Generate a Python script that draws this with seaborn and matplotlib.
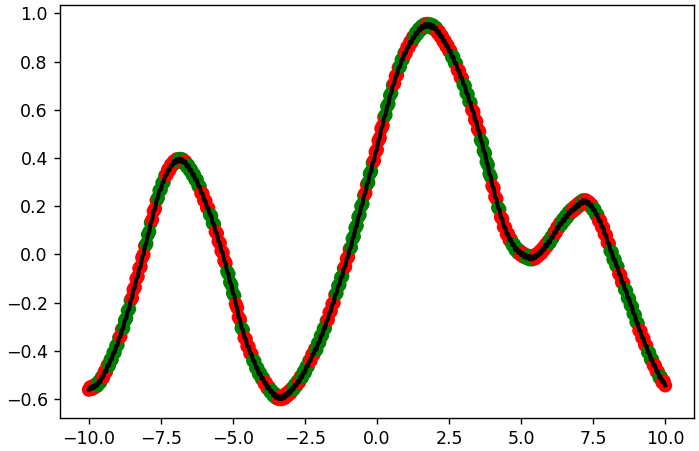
import numpy as np
import pandas as pd
import matplotlib
matplotlib.use("Agg")
import matplotlib.pyplot as plt
import seaborn as sns

# x grid, step 0.05 from -10 to 10
x = np.round(np.arange(-200, 201) / 20, 2)

# curve values (jagged like the original), 20 per unit of x
y = [
    -0.562, -0.551, -0.559, -0.546, -0.553, -0.539, -0.545, -0.527, -0.531, -0.509,
    -0.511, -0.486, -0.487, -0.461, -0.462, -0.437, -0.436, -0.408, -0.407, -0.379,
    -0.376, -0.346, -0.341, -0.311, -0.306, -0.274, -0.266, -0.233, -0.227, -0.191,
    -0.181, -0.146, -0.137, -0.101, -0.092, -0.058, -0.051, -0.013, -0.001, 0.035,
    0.044, 0.082, 0.094, 0.132, 0.144, 0.180, 0.189, 0.225, 0.234, 0.265,
    0.269, 0.297, 0.299, 0.327, 0.329, 0.352, 0.349, 0.372, 0.369, 0.386,
    0.379, 0.395, 0.384, 0.397, 0.384, 0.395, 0.379, 0.385, 0.364, 0.370,
    0.349, 0.352, 0.329, 0.332, 0.309, 0.310, 0.284, 0.282, 0.254, 0.252,
    0.224, 0.222, 0.194, 0.192, 0.164, 0.160, 0.129, 0.125, 0.094, 0.087,
    0.054, 0.047, 0.014, 0.007, -0.026, -0.036, -0.071, -0.081, -0.116, -0.126,
    -0.161, -0.171, -0.206, -0.221, -0.261, -0.271, -0.306, -0.313, -0.346, -0.351,
    -0.381, -0.383, -0.411, -0.413, -0.441, -0.443, -0.471, -0.471, -0.496, -0.493,
    -0.516, -0.513, -0.536, -0.533, -0.556, -0.551, -0.571, -0.566, -0.586, -0.578,
    -0.596, -0.586, -0.601, -0.589, -0.601, -0.586, -0.596, -0.578, -0.586, -0.568,
    -0.576, -0.556, -0.561, -0.541, -0.546, -0.526, -0.531, -0.508, -0.511, -0.488,
    -0.491, -0.466, -0.466, -0.441, -0.441, -0.416, -0.416, -0.393, -0.396, -0.368,
    -0.366, -0.338, -0.336, -0.308, -0.306, -0.276, -0.271, -0.241, -0.236, -0.206,
    -0.201, -0.168, -0.161, -0.131, -0.126, -0.096, -0.091, -0.058, -0.051, -0.018,
    -0.011, 0.022, 0.029, 0.065, 0.074, 0.110, 0.119, 0.155, 0.164, 0.200,
    0.209, 0.245, 0.254, 0.290, 0.299, 0.335, 0.344, 0.380, 0.389, 0.425,
    0.434, 0.472, 0.484, 0.522, 0.534, 0.570, 0.579, 0.615, 0.624, 0.660,
    0.669, 0.702, 0.709, 0.740, 0.744, 0.775, 0.779, 0.807, 0.809, 0.835,
    0.834, 0.860, 0.859, 0.882, 0.879, 0.902, 0.899, 0.920, 0.914, 0.935,
    0.929, 0.947, 0.939, 0.955, 0.944, 0.957, 0.944, 0.955, 0.939, 0.950,
    0.934, 0.940, 0.919, 0.925, 0.904, 0.907, 0.884, 0.887, 0.864, 0.867,
    0.844, 0.845, 0.819, 0.820, 0.794, 0.792, 0.764, 0.762, 0.734, 0.732,
    0.704, 0.700, 0.669, 0.665, 0.634, 0.630, 0.599, 0.592, 0.559, 0.552,
    0.519, 0.510, 0.474, 0.465, 0.429, 0.420, 0.384, 0.372, 0.334, 0.322,
    0.284, 0.275, 0.239, 0.230, 0.194, 0.187, 0.154, 0.147, 0.114, 0.112,
    0.084, 0.085, 0.059, 0.062, 0.039, 0.042, 0.019, 0.025, 0.006, 0.015,
    -0.003, 0.006, -0.011, -0.001, -0.016, -0.006, -0.021, -0.008, -0.021, -0.006,
    -0.016, 0.002, -0.006, 0.012, 0.004, 0.025, 0.019, 0.040, 0.034, 0.055,
    0.049, 0.072, 0.069, 0.092, 0.089, 0.112, 0.109, 0.130, 0.124, 0.145,
    0.139, 0.160, 0.154, 0.175, 0.169, 0.187, 0.179, 0.197, 0.189, 0.207,
    0.199, 0.217, 0.209, 0.225, 0.214, 0.225, 0.209, 0.217, 0.199, 0.205,
    0.184, 0.187, 0.164, 0.165, 0.139, 0.140, 0.114, 0.112, 0.084, 0.080,
    0.049, 0.045, 0.014, 0.010, -0.021, -0.021, -0.046, -0.051, -0.081, -0.086,
    -0.116, -0.118, -0.146, -0.151, -0.181, -0.183, -0.211, -0.216, -0.246, -0.251,
    -0.281, -0.286, -0.316, -0.318, -0.346, -0.348, -0.376, -0.378, -0.406, -0.408,
    -0.436, -0.436, -0.461, -0.461, -0.486, -0.486, -0.511, -0.508, -0.531, -0.526,
    -0.544,
]

# runs of red / green markers along the curve (starting with red)
runs = [6, 4, 4, 8, 2, 6, 10, 4, 4, 6, 8, 4, 2, 10, 6, 4, 8, 6, 4, 2,
        6, 8, 4, 6, 10, 4, 2, 6, 4, 8, 6, 6, 4, 10, 2, 4, 8, 6, 4, 4,
        6, 8, 2, 6, 10, 4, 4, 6, 6, 8, 4, 2, 8, 6, 4, 6, 10, 4, 4, 8,
        6, 2, 6, 4, 8, 6, 4, 10, 6, 4, 4, 2, 4]
names = ["red", "green"]
group = np.repeat([names[i % 2] for i in range(len(runs))], runs)[:len(x)]

df = pd.DataFrame({"x": x, "y": y, "group": group})

fig = plt.figure(figsize=(699 / 125, 451 / 125), dpi=125)
ax = fig.add_axes([60 / 699, 1 - 418 / 451, 634 / 699, 413 / 451])

sns.scatterplot(data=df, x="x", y="y", hue="group",
                palette={"red": "red", "green": "green"},
                s=65, linewidth=0, legend=False, ax=ax)
sns.lineplot(data=df, x="x", y="y", color="black", lw=2.3, ax=ax)
ax.set_xlabel("")
ax.set_ylabel("")

fig.savefig("out.png", dpi=125)
